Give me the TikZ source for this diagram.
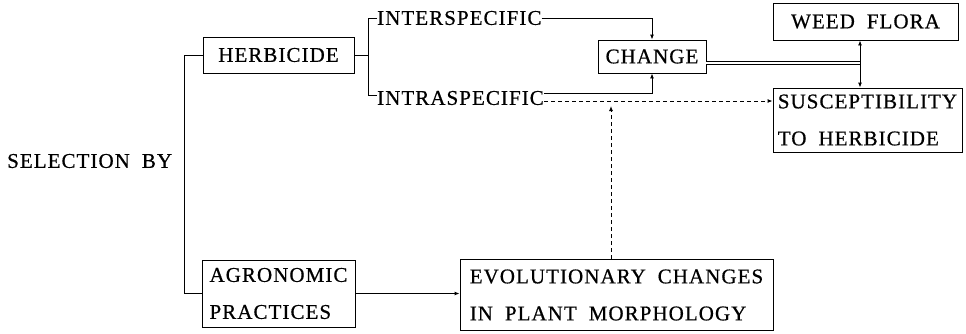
\documentclass[tikz,border=0pt]{standalone}
\usepackage{fontspec}
\setmainfont{Liberation Serif}[LetterSpace=5, WordSpace=1.9, FakeBold=0.6]
\usetikzlibrary{arrows.meta}
\begin{document}
\begin{tikzpicture}[x=1pt,y=-1pt,
  every node/.style={font=\fontsize{21}{37}\selectfont, inner sep=0pt},
  box/.style={draw, line width=0.9pt, align=left},
  lbl/.style={anchor=west},
  con/.style={line width=0.9pt},
  arr/.style={con, -{Latex[length=5pt,width=4pt]}},
  dsh/.style={arr, dash pattern=on 4pt off 3pt}]
\useasboundingbox (0,0) rectangle (966,333);
\node[box, minimum width=151pt, minimum height=36pt] (herb) at (278.5,55) {HERBICIDE};
\node[box, minimum width=153pt, minimum height=67pt] (agro) at (278.5,293.5) {AGRONOMIC\\PRACTICES};
\node[box, minimum width=313pt, minimum height=71pt] (evol) at (616.5,295) {EVOLUTIONARY CHANGES\\IN PLANT MORPHOLOGY};
\node[box, minimum width=108pt, minimum height=33pt] (change) at (652,56.5) {CHANGE};
\node[box, minimum width=185pt, minimum height=37pt] (weed) at (865.5,21.5) {WEED FLORA};
\node[box, minimum width=189pt, minimum height=64pt] (susc) at (867.5,120) {SUSCEPTIBILITY\\TO HERBICIDE};
\node[lbl] (sel) at (7,161) {SELECTION BY};
\node[lbl] (inter) at (377,18) {INTERSPECIFIC};
\node[lbl] (intra) at (377,98) {INTRASPECIFIC};
\coordinate (lb) at (184,0);
\coordinate (rb) at (368,0);
\coordinate (j) at (860,63);
\coordinate (dt) at (611,106);
\draw[con] (herb.west) -- (lb |- herb.west) -- (lb |- agro.west) -- (agro.west);
\draw[con] (herb.east) -- (rb |- herb.east);
\draw[con] (inter.west) -- (rb |- inter.west) -- (rb |- 0,95) -- (intra.west |- 0,95);
\draw[arr] (inter.east) -- (change.north |- inter.east) -- (change.north);
\draw[arr] (intra.east |- 0,93) -- (change.south |- 0,93) -- (change.south);
\draw[dsh] (intra.east |- 0,101) -- (susc.west |- 0,101);
\draw[dsh] (evol.north -| dt) -- (dt);
\draw[con, double, double distance=1.6pt] (change.east |- j) -- (j);
\draw[arr] (j) -- (weed.south -| j);
\draw[arr] (j) -- (susc.north -| j);
\draw[arr] (agro.east) -- (evol.west |- agro.east);
\end{tikzpicture}
\end{document}
